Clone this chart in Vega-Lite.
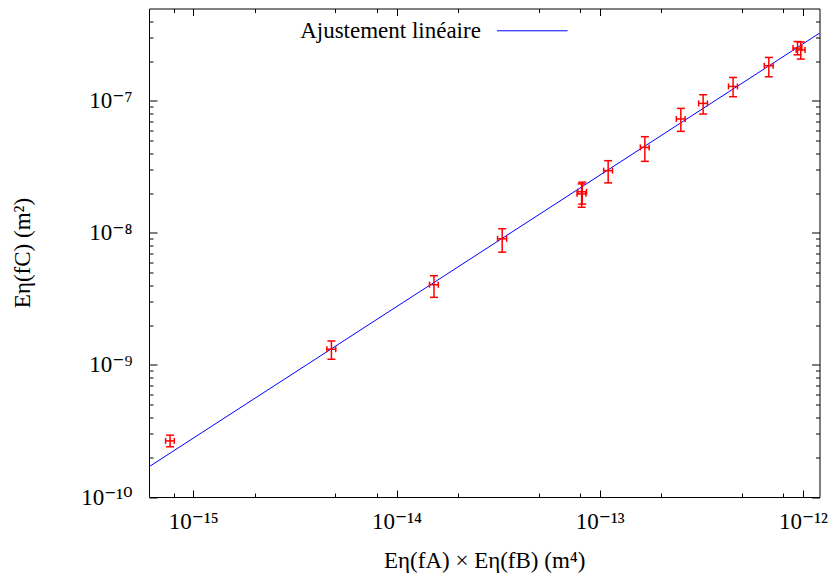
{
  "$schema": "https://vega.github.io/schema/vega-lite/v6.json",
  "width": 670.5,
  "height": 488.5,
  "autosize": "none",
  "padding": {"left": 149, "top": 8.5, "right": 13.5, "bottom": 82},
  "background": "white",
  "config": {
    "view": {"stroke": "black", "strokeWidth": 1},
    "axis": {
      "grid": false,
      "domain": false,
      "tickColor": "black",
      "tickWidth": 1,
      "labelFont": "Liberation Serif, DejaVu Serif",
      "labelFontSize": 23,
      "labelColor": "black",
      "titleFont": "Liberation Serif, DejaVu Serif",
      "titleFontSize": 23,
      "titleFontWeight": "normal",
      "titleColor": "black"
    }
  },
  "datasets": {
    "points": [
      {"x": 7.68e-16, "xlo": 7.30e-16, "xhi": 8.06e-16, "y": 2.66e-10, "ylo": 2.40e-10, "yhi": 2.94e-10},
      {"x": 4.78e-15, "xlo": 4.54e-15, "xhi": 5.02e-15, "y": 1.315e-9, "ylo": 1.104e-9, "yhi": 1.518e-9},
      {"x": 1.528e-14, "xlo": 1.452e-14, "xhi": 1.604e-14, "y": 4.05e-9, "ylo": 3.25e-9, "yhi": 4.74e-9},
      {"x": 3.31e-14, "xlo": 3.14e-14, "xhi": 3.48e-14, "y": 9.02e-9, "ylo": 7.14e-9, "yhi": 1.074e-8},
      {"x": 8.14e-14, "xlo": 7.73e-14, "xhi": 8.55e-14, "y": 1.974e-8, "ylo": 1.563e-8, "yhi": 2.35e-8},
      {"x": 8.2e-14, "xlo": 7.79e-14, "xhi": 8.61e-14, "y": 2.05e-8, "ylo": 1.65e-8, "yhi": 2.42e-8},
      {"x": 1.10e-13, "xlo": 1.045e-13, "xhi": 1.155e-13, "y": 2.96e-8, "ylo": 2.39e-8, "yhi": 3.52e-8},
      {"x": 1.667e-13, "xlo": 1.584e-13, "xhi": 1.75e-13, "y": 4.44e-8, "ylo": 3.48e-8, "yhi": 5.35e-8},
      {"x": 2.506e-13, "xlo": 2.381e-13, "xhi": 2.631e-13, "y": 7.29e-8, "ylo": 5.87e-8, "yhi": 8.76e-8},
      {"x": 3.226e-13, "xlo": 3.065e-13, "xhi": 3.387e-13, "y": 9.56e-8, "ylo": 7.94e-8, "yhi": 1.112e-7},
      {"x": 4.53e-13, "xlo": 4.30e-13, "xhi": 4.76e-13, "y": 1.285e-7, "ylo": 1.074e-7, "yhi": 1.503e-7},
      {"x": 6.79e-13, "xlo": 6.45e-13, "xhi": 7.13e-13, "y": 1.842e-7, "ylo": 1.52e-7, "yhi": 2.13e-7},
      {"x": 9.40e-13, "xlo": 8.93e-13, "xhi": 9.87e-13, "y": 2.506e-7, "ylo": 2.23e-7, "yhi": 2.81e-7},
      {"x": 9.75e-13, "xlo": 9.26e-13, "xhi": 1.024e-12, "y": 2.43e-7, "ylo": 2.07e-7, "yhi": 2.79e-7}
    ],
    "fit": [
      {"x": 6.05e-16, "y": 1.694e-10},
      {"x": 1.206e-12, "y": 3.254e-7}
    ],
    "legend": [
      {"label": "Ajustement linéaire"}
    ]
  },
  "resolve": {"axis": {"x": "independent", "y": "independent"}},
  "layer": [
    {
      "data": {"name": "fit"},
      "mark": {"type": "line", "color": "#0000ff", "strokeWidth": 1},
      "encoding": {
        "x": {
          "field": "x", "type": "quantitative",
          "scale": {"type": "log", "domain": [6.05e-16, 1.206e-12], "nice": false},
          "axis": {
            "orient": "bottom",
            "values": [1e-15, 1e-14, 1e-13, 1e-12],
            "tickSize": -7,
            "labelPadding": 20,
            "labelExpr": "datum.value < 5e-15 ? '10⁻¹⁵' : datum.value < 5e-14 ? '10⁻¹⁴' : datum.value < 5e-13 ? '10⁻¹³' : '10⁻¹²'",
            "title": "Eη(fA) × Eη(fB) (m⁴)",
            "titleX": 335.25,
            "titleY": 63,
            "titleBaseline": "middle"
          }
        },
        "y": {
          "field": "y", "type": "quantitative",
          "scale": {"type": "log", "domain": [1e-10, 5e-7], "nice": false},
          "axis": {
            "orient": "left",
            "values": [1e-10, 1e-9, 1e-8, 1e-7],
            "tickSize": -8,
            "labelPadding": 25,
            "labelExpr": "datum.value < 5e-10 ? '10⁻¹⁰' : datum.value < 5e-9 ? '10⁻⁹' : datum.value < 5e-8 ? '10⁻⁸' : '10⁻⁷'",
            "title": "Eη(fC) (m²)",
            "titleAngle": -90,
            "titleX": -127,
            "titleY": 244,
            "titleBaseline": "middle",
            "titleAlign": "center"
          }
        }
      }
    },
    {
      "data": {"name": "points"},
      "mark": {"type": "rule", "color": "#ff0000", "strokeWidth": 1.5},
      "encoding": {
        "x": {
          "field": "x", "type": "quantitative",
          "scale": {"type": "log", "domain": [6.05e-16, 1.206e-12], "nice": false},
          "axis": {
            "orient": "bottom",
            "values": [8e-16, 2e-15, 5e-15, 8e-15, 2e-14, 5e-14, 8e-14, 2e-13, 5e-13, 8e-13],
            "tickSize": -4, "labels": false, "title": null
          }
        },
        "y": {
          "field": "ylo", "type": "quantitative",
          "scale": {"type": "log", "domain": [1e-10, 5e-7], "nice": false},
          "axis": {
            "orient": "left",
            "values": [2e-10, 3e-10, 4e-10, 5e-10, 6e-10, 7e-10, 8e-10, 9e-10, 2e-9, 3e-9, 4e-9, 5e-9, 6e-9, 7e-9, 8e-9, 9e-9, 2e-8, 3e-8, 4e-8, 5e-8, 6e-8, 7e-8, 8e-8, 9e-8, 2e-7, 3e-7, 4e-7],
            "tickSize": -4, "labels": false, "title": null
          }
        },
        "y2": {"field": "yhi"}
      }
    },
    {
      "data": {"name": "points"},
      "mark": {"type": "rule", "color": "#ff0000", "strokeWidth": 1.5},
      "encoding": {
        "x": {
          "field": "xlo", "type": "quantitative",
          "scale": {"type": "log", "domain": [6.05e-16, 1.206e-12], "nice": false},
          "axis": {
            "orient": "top",
            "values": [1e-15, 1e-14, 1e-13, 1e-12],
            "tickSize": -7, "labels": false, "title": null
          }
        },
        "x2": {"field": "xhi"},
        "y": {
          "field": "y", "type": "quantitative",
          "scale": {"type": "log", "domain": [1e-10, 5e-7], "nice": false},
          "axis": {
            "orient": "right",
            "values": [1e-10, 1e-9, 1e-8, 1e-7],
            "tickSize": -8, "labels": false, "title": null
          }
        }
      }
    },
    {
      "data": {"name": "points"},
      "mark": {"type": "tick", "orient": "horizontal", "color": "#ff0000", "size": 8, "thickness": 1.5, "opacity": 1},
      "encoding": {
        "x": {
          "field": "x", "type": "quantitative",
          "scale": {"type": "log", "domain": [6.05e-16, 1.206e-12], "nice": false},
          "axis": {
            "orient": "top",
            "values": [8e-16, 2e-15, 5e-15, 8e-15, 2e-14, 5e-14, 8e-14, 2e-13, 5e-13, 8e-13],
            "tickSize": -4, "labels": false, "title": null
          }
        },
        "y": {
          "field": "ylo", "type": "quantitative",
          "scale": {"type": "log", "domain": [1e-10, 5e-7], "nice": false},
          "axis": {
            "orient": "right",
            "values": [2e-10, 3e-10, 4e-10, 5e-10, 6e-10, 7e-10, 8e-10, 9e-10, 2e-9, 3e-9, 4e-9, 5e-9, 6e-9, 7e-9, 8e-9, 9e-9, 2e-8, 3e-8, 4e-8, 5e-8, 6e-8, 7e-8, 8e-8, 9e-8, 2e-7, 3e-7, 4e-7],
            "tickSize": -4, "labels": false, "title": null
          }
        }
      }
    },
    {
      "data": {"name": "points"},
      "mark": {"type": "tick", "orient": "horizontal", "color": "#ff0000", "size": 8, "thickness": 1.5, "opacity": 1},
      "encoding": {
        "x": {"field": "x", "type": "quantitative", "scale": {"type": "log", "domain": [6.05e-16, 1.206e-12], "nice": false}, "axis": null},
        "y": {"field": "yhi", "type": "quantitative", "scale": {"type": "log", "domain": [1e-10, 5e-7], "nice": false}, "axis": null}
      }
    },
    {
      "data": {"name": "points"},
      "mark": {"type": "tick", "orient": "vertical", "color": "#ff0000", "size": 6, "thickness": 1.5, "opacity": 1},
      "encoding": {
        "x": {"field": "xlo", "type": "quantitative", "scale": {"type": "log", "domain": [6.05e-16, 1.206e-12], "nice": false}, "axis": null},
        "y": {"field": "y", "type": "quantitative", "scale": {"type": "log", "domain": [1e-10, 5e-7], "nice": false}, "axis": null}
      }
    },
    {
      "data": {"name": "points"},
      "mark": {"type": "tick", "orient": "vertical", "color": "#ff0000", "size": 6, "thickness": 1.5, "opacity": 1},
      "encoding": {
        "x": {"field": "xhi", "type": "quantitative", "scale": {"type": "log", "domain": [6.05e-16, 1.206e-12], "nice": false}, "axis": null},
        "y": {"field": "y", "type": "quantitative", "scale": {"type": "log", "domain": [1e-10, 5e-7], "nice": false}, "axis": null}
      }
    },
    {
      "data": {"name": "legend"},
      "mark": {"type": "text", "align": "right", "baseline": "middle", "font": "Liberation Serif, DejaVu Serif", "fontSize": 23, "color": "black"},
      "encoding": {
        "x": {"datum": 2.6e-14, "type": "quantitative", "scale": {"type": "log", "domain": [6.05e-16, 1.206e-12], "nice": false}, "axis": null},
        "y": {"datum": 3.39e-7, "type": "quantitative", "scale": {"type": "log", "domain": [1e-10, 5e-7], "nice": false}, "axis": null},
        "text": {"field": "label"}
      }
    },
    {
      "data": {"name": "legend"},
      "mark": {"type": "rule", "color": "#0000ff", "strokeWidth": 1},
      "encoding": {
        "x": {"datum": 3.119e-14, "type": "quantitative", "scale": {"type": "log", "domain": [6.05e-16, 1.206e-12], "nice": false}, "axis": null},
        "x2": {"datum": 6.945e-14},
        "y": {"datum": 3.39e-7, "type": "quantitative", "scale": {"type": "log", "domain": [1e-10, 5e-7], "nice": false}, "axis": null}
      }
    }
  ]
}
